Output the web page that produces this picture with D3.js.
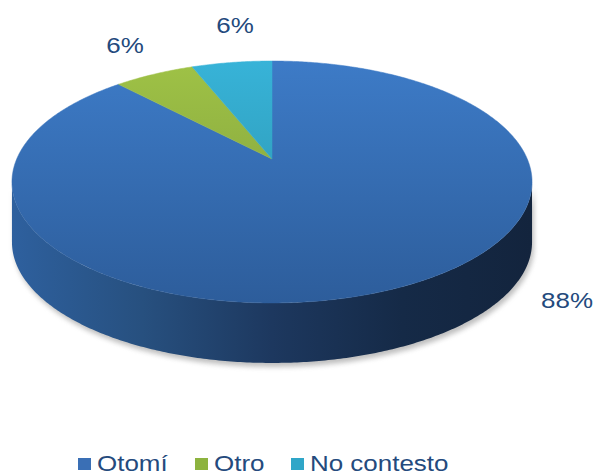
<!DOCTYPE html>
<html><head><meta charset="utf-8">
<script src="https://cdn.jsdelivr.net/npm/d3@7"></script>
<style>html,body{margin:0;padding:0;background:#fff}svg{display:block}</style>
</head><body>
<svg id="chart" width="599" height="476"></svg>
<script>
const categories = ["Otomí", "Otro", "No contesto"];
const values = [88, 6, 6];
const labels = ["88%", "6%", "6%"];
const topColors = [["#3d7bc7", "#2d5d9b"], ["#9fc246", "#7a993a"], ["#37b3d8", "#2a8ea6"]];
const legendColors = ["#3a6fb5", "#8db33f", "#2fa6c8"];

const W = 599, H = 476;
const cx = 272, cy = 159, rx = 255.3, ry = 116.6, k = 0.19, depth = 60;
const textColor = "#244a7d";
const sx = 1.18;

const svg = d3.select("#chart");
const defs = svg.append("defs");

function proj(t, dy = 0) {
  const s = Math.sin(t), c = Math.cos(t), d = 1 + k * c;
  return [cx + rx * s / d, cy - ry * c / d + dy];
}
function arcPts(a0, a1, dy = 0) {
  const n = Math.max(2, Math.ceil(Math.abs(a1 - a0) / 0.01));
  return d3.range(n + 1).map(i => proj(a0 + (a1 - a0) * i / n, dy));
}

const pie = d3.pie().sort(null).value(d => d)(values);

// gradients
topColors.forEach((c, i) => {
  const g = defs.append("linearGradient").attr("id", "top" + i)
    .attr("gradientUnits", "userSpaceOnUse").attr("x1", 0).attr("x2", 0).attr("y1", 61).attr("y2", 303);
  g.append("stop").attr("offset", 0).attr("stop-color", c[0]);
  g.append("stop").attr("offset", 1).attr("stop-color", c[1]);
});
const sideStops = [[0, "#2e609e"], [0.25, "#27507f"], [0.5, "#1d385f"], [0.75, "#152a47"], [1, "#13243d"]];
const sg = defs.append("linearGradient").attr("id", "side0")
  .attr("gradientUnits", "userSpaceOnUse").attr("x1", 12).attr("x2", 532).attr("y1", 0).attr("y2", 0);
sideStops.forEach(s => sg.append("stop").attr("offset", s[0]).attr("stop-color", s[1]));
defs.append("filter").attr("id", "blur").attr("x", "-10%").attr("y", "-10%").attr("width", "120%").attr("height", "130%")
  .append("feGaussianBlur").attr("stdDeviation", 2.5);

const line = d3.line();
const tR = Math.PI - Math.acos(k) + Math.PI / 2 - Math.PI / 2; // placeholder
// visible front range: cos t = -k
const front0 = Math.acos(-k), front1 = 2 * Math.PI - Math.acos(-k);

// shadow
const shadowPts = arcPts(front0, front1, 0).concat(arcPts(front1, front0, depth + 3));
svg.append("path").attr("d", line(shadowPts) + "Z").attr("fill", "#8a8a8a").attr("opacity", 0.55)
  .attr("transform", "translate(2,1)").attr("filter", "url(#blur)");

// side walls
pie.forEach((p, i) => {
  const a0 = Math.max(p.startAngle, front0), a1 = Math.min(p.endAngle, front1);
  if (a1 <= a0) return;
  const pts = arcPts(a0, a1, 0).concat(arcPts(a1, a0, depth));
  svg.append("path").attr("d", line(pts) + "Z").attr("fill", "url(#side0)");
});

// top faces
pie.forEach((p, i) => {
  const pts = [proj(0, 0).map((v, j) => j === 0 ? cx : cy)].concat(arcPts(p.startAngle, p.endAngle, 0));
  svg.append("path").attr("d", line(pts) + "Z").attr("fill", `url(#top${i})`)
    .attr("stroke", `url(#top${i})`).attr("stroke-width", 0.5);
});

// labels
const labelPos = [[567, 308], [125, 53], [235, 33]];
const lbl = svg.append("g").attr("font-family", "'Liberation Sans', Arial, sans-serif")
  .attr("font-size", 22).attr("fill", textColor);
labels.forEach((t, i) => {
  lbl.append("text").attr("transform", `translate(${labelPos[i][0]},${labelPos[i][1]}) scale(${sx},1)`)
    .attr("text-anchor", "middle").text(t);
});

// legend
const legendX = [78, 195, 291];
const lg = svg.append("g").attr("font-family", "'Liberation Sans', Arial, sans-serif")
  .attr("font-size", 22).attr("fill", textColor);
categories.forEach((c, i) => {
  lg.append("rect").attr("x", legendX[i]).attr("y", 458).attr("width", 13).attr("height", 12).attr("fill", legendColors[i]);
  lg.append("text").attr("transform", `translate(${legendX[i] + 19},471) scale(${sx},1)`).text(c);
});
</script>
</body></html>
